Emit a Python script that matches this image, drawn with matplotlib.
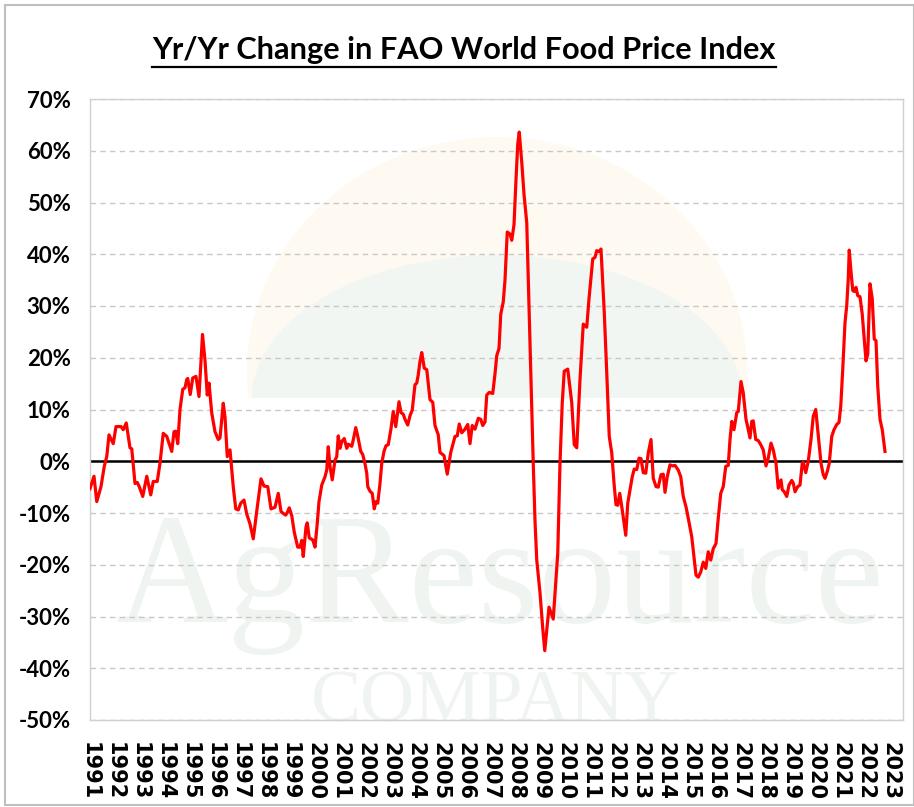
import matplotlib
matplotlib.use("Agg")
import matplotlib.pyplot as plt
from matplotlib import font_manager as fm
from matplotlib.patches import Ellipse, Rectangle
from matplotlib.lines import Line2D

# ---------------- data ----------------
dates = [
    1991.00, 1991.16, 1991.27, 1991.44, 1991.57, 1991.67, 1991.76, 1991.93,
    1992.04, 1992.24, 1992.33, 1992.45, 1992.60, 1992.67, 1992.80, 1992.89, 1992.97,
    1993.11, 1993.27, 1993.43, 1993.53, 1993.69, 1993.80, 1993.93,
    1994.07, 1994.27, 1994.36, 1994.43, 1994.51, 1994.60, 1994.71, 1994.80, 1994.87, 1994.91,
    1995.01, 1995.11, 1995.24, 1995.36, 1995.50, 1995.60, 1995.69, 1995.76, 1995.87,
    1996.00, 1996.13, 1996.20, 1996.33, 1996.40, 1996.49, 1996.60, 1996.73, 1996.83, 1996.93,
    1997.03, 1997.16, 1997.27, 1997.40, 1997.53, 1997.69, 1997.84, 1997.96,
    1998.11, 1998.24, 1998.40, 1998.53, 1998.64, 1998.76, 1998.83, 1998.89, 1998.97,
    1999.07, 1999.17, 1999.31, 1999.40, 1999.47, 1999.53, 1999.64, 1999.69, 1999.77, 1999.91,
    2000.00, 2000.09, 2000.16, 2000.27, 2000.40, 2000.47, 2000.53, 2000.60, 2000.69, 2000.80, 2000.87, 2000.93,
    2001.00, 2001.07, 2001.17, 2001.27, 2001.33, 2001.47, 2001.53, 2001.63, 2001.73, 2001.83, 2001.91,
    2002.00, 2002.07, 2002.11, 2002.20, 2002.29, 2002.37, 2002.44, 2002.51, 2002.60, 2002.67, 2002.76, 2002.84, 2002.93,
    2003.04, 2003.13, 2003.23, 2003.36, 2003.44, 2003.53, 2003.60, 2003.71, 2003.80, 2003.89,
    2004.00, 2004.07, 2004.13, 2004.20, 2004.27, 2004.37, 2004.47, 2004.60, 2004.71, 2004.80, 2004.93,
    2005.00, 2005.16, 2005.29, 2005.43, 2005.60, 2005.69, 2005.77, 2005.87,
    2006.00, 2006.11, 2006.20, 2006.29, 2006.40, 2006.53, 2006.63, 2006.71, 2006.80, 2006.87, 2006.97,
    2007.11, 2007.20, 2007.27, 2007.36, 2007.43, 2007.53, 2007.60, 2007.69, 2007.80, 2007.87, 2007.96,
    2008.04, 2008.11, 2008.17, 2008.27, 2008.36, 2008.47, 2008.57, 2008.67, 2008.73, 2008.80, 2008.87,
    2009.00, 2009.11, 2009.19, 2009.36, 2009.53, 2009.71, 2009.80, 2009.89, 2009.97,
    2010.11, 2010.27, 2010.37, 2010.47, 2010.60, 2010.73, 2010.87, 2010.96,
    2011.11, 2011.20, 2011.27, 2011.36, 2011.44, 2011.57, 2011.67, 2011.77, 2011.87, 2011.96,
    2012.04, 2012.11, 2012.19, 2012.29, 2012.43, 2012.51, 2012.60, 2012.69, 2012.77, 2012.87, 2012.96,
    2013.04, 2013.13, 2013.23, 2013.33, 2013.44, 2013.53, 2013.64, 2013.73, 2013.84, 2013.93,
    2014.00, 2014.09, 2014.20, 2014.31, 2014.40, 2014.53, 2014.63, 2014.73, 2014.84, 2014.93,
    2015.07, 2015.16, 2015.24, 2015.33, 2015.43, 2015.53, 2015.63, 2015.73, 2015.83, 2015.93,
    2016.04, 2016.13, 2016.23, 2016.33, 2016.43, 2016.53, 2016.60, 2016.67, 2016.76, 2016.87, 2016.93,
    2017.04, 2017.13, 2017.24, 2017.31, 2017.40, 2017.47, 2017.53, 2017.63, 2017.73, 2017.83, 2017.93,
    2018.04, 2018.13, 2018.24, 2018.33, 2018.44, 2018.53, 2018.64, 2018.69, 2018.77, 2018.87, 2018.96,
    2019.07, 2019.13, 2019.20, 2019.31, 2019.40, 2019.49, 2019.53, 2019.63, 2019.73, 2019.84, 2019.93,
    2020.03, 2020.13, 2020.24, 2020.33, 2020.40, 2020.49, 2020.57, 2020.67, 2020.76, 2020.87, 2020.96,
    2021.03, 2021.11, 2021.20, 2021.27, 2021.33, 2021.37, 2021.43, 2021.51, 2021.57, 2021.64, 2021.71, 2021.80, 2021.89, 2021.97,
    2022.04, 2022.11, 2022.20, 2022.29, 2022.37, 2022.44, 2022.51, 2022.60, 2022.69, 2022.80,
]
yoy_pct = [
    -5.3, -2.9, -7.8, -4.9, -1.0, 0.9, 5.1, 3.4,
    6.7, 6.7, 6.1, 7.4, 2.6, 2.4, -4.3, -4.1, -4.9,
    -6.8, -2.9, -6.5, -3.9, -3.9, -0.4, 5.4,
    4.8, 1.9, 5.7, 5.8, 3.4, 10.0, 13.9, 14.2, 15.8, 16.0,
    12.9, 16.1, 16.4, 12.5, 24.5, 19.5, 12.8, 15.1, 9.3,
    5.7, 4.2, 4.5, 11.2, 8.6, 0.9, 2.2, -4.9, -9.2, -9.4,
    -8.1, -7.5, -10.2, -12.1, -15.0, -8.9, -3.4, -4.8,
    -4.9, -9.2, -8.9, -6.2, -9.7, -10.2, -10.4, -9.9, -9.0,
    -10.5, -13.7, -16.6, -16.6, -15.3, -18.4, -12.7, -11.9, -14.8, -15.2,
    -16.6, -12.0, -7.8, -4.6, -3.0, -1.7, 2.8, -1.0, -3.6, 0.2, 0.9, 4.9,
    2.5, 3.8, 4.4, 2.5, 3.3, 2.9, 4.1, 6.5, 4.4, 1.9, 1.3,
    -0.5, -2.3, -4.9, -5.8, -6.2, -9.2, -7.8, -8.1, -4.3, -0.4, 1.9, 3.0, 3.2,
    6.3, 9.6, 6.7, 11.5, 9.4, 9.1, 8.1, 7.0, 8.8, 9.9,
    14.8, 15.1, 16.7, 19.3, 21.0, 18.0, 17.7, 11.9, 11.4, 6.9, 5.1,
    1.7, 1.1, -2.5, 1.7, 4.8, 4.9, 7.2, 5.5,
    6.2, 7.1, 3.4, 6.9, 6.2, 8.3, 8.1, 6.9, 7.6, 12.8, 13.3,
    13.1, 16.9, 20.4, 21.8, 28.4, 30.8, 35.0, 44.3, 43.9, 42.7, 45.7,
    54.4, 61.3, 63.6, 57.8, 51.6, 46.1, 28.0, 10.7, -0.4, -11.5, -19.1,
    -25.4, -32.3, -36.6, -28.2, -30.5, -17.8, -0.4, 11.3, 17.4,
    17.8, 11.3, 3.2, 2.6, 15.8, 26.5, 25.9, 31.4,
    39.1, 39.4, 40.7, 40.5, 41.0, 28.8, 17.1, 4.8, 1.6, -4.2,
    -8.4, -8.5, -6.2, -9.4, -14.3, -8.1, -5.5, -3.0, -1.5, -1.6, 0.6,
    0.5, -2.2, -2.3, 1.6, 4.2, -3.3, -4.9, -5.0, -2.6, -2.5,
    -6.0, -3.0, -0.7, -0.9, -0.8, -1.7, -3.0, -6.8, -8.8, -11.0,
    -14.6, -18.5, -22.0, -22.4, -21.4, -19.5, -20.7, -17.5, -19.1, -16.9,
    -15.9, -11.0, -6.2, -4.9, -1.0, -0.8, 4.2, 7.7, 6.1, 9.4, 9.6,
    15.4, 13.2, 8.1, 6.6, 4.5, 7.7, 7.8, 4.2, 4.0, 3.2, 2.2,
    -0.9, 0.6, 3.5, 2.2, -0.4, -5.2, -3.6, -5.5, -5.9, -6.8, -4.6,
    -3.7, -4.2, -5.9, -4.9, -4.6, -0.4, -0.2, -2.2, 0.0, 4.2, 8.7,
    10.0, 5.1, -0.4, -2.6, -3.3, -2.0, -0.4, 4.8, 6.1, 7.1, 7.5,
    10.6, 17.8, 26.8, 30.1, 35.2, 40.8, 37.2, 33.0, 32.8, 33.6, 32.0, 31.8, 28.4, 23.6,
    19.4, 20.7, 34.3, 31.4, 23.6, 23.3, 14.5, 8.1, 6.1, 1.9,
]
year_ticks = list(range(1991, 2024))
y_ticks = list(range(-50, 71, 10))
title_text = "Yr/Yr Change in FAO World Food Price Index"

# ---------------- fonts ----------------
avail = {f.name for f in fm.fontManager.ttflist}
calib = "Lato" if "Lato" in avail else "DejaVu Sans"
serif = "Liberation Serif" if "Liberation Serif" in avail else "DejaVu Serif"

W, H = 914, 807
fig = plt.figure(figsize=(W / 100, H / 100), dpi=100)
fig.patch.set_facecolor("white")


def fx(x):
    return x / W


def fy(y):
    return 1 - y / H


tf = fig.transFigure

# outer frame
fig.add_artist(Rectangle((fx(5), fy(805)), fx(914) - fx(5), fy(5) - fy(805),
                         transform=tf, fill=False,
                         edgecolor="#bfbfbf", linewidth=1.5))

L, R, T, B = 90, 903, 99, 720
ax = fig.add_axes([fx(L), fy(B), fx(R) - fx(L), fy(T) - fy(B)])
ax.set_facecolor("white")

# watermark logo (decorative, very faint)
ax.add_patch(Ellipse((fx(497), fy(372)), fx(250) * 2, (fy(137) - fy(372)) * 2,
                     transform=tf, facecolor="#fefaf1", edgecolor="none", zorder=0.1))
ax.add_patch(Ellipse((fx(497), fy(398)), fx(245) * 2, (fy(255) - fy(398)) * 2,
                     transform=tf, facecolor="#f2f6f2", edgecolor="none", zorder=0.15))
ax.add_patch(Rectangle((fx(240), fy(640)), fx(520), fy(398) - fy(640), transform=tf,
                       facecolor="white", edgecolor="none", zorder=0.16))
ax.text(fx(500), fy(622), "AgResource", transform=tf, ha="center", va="baseline",
        fontsize=112, family=serif, color="#eff4f1", zorder=0.2)
ax.text(fx(495), fy(722), "COMPANY", transform=tf, ha="center", va="baseline",
        fontsize=54, family=serif, color="#eff4f1", zorder=0.2)

# grid & zero line
ax.set_axisbelow(True)
ax.grid(axis="y", color="#c8c8c8", linestyle=(0, (4, 3)), linewidth=1.0, zorder=0.5)
ax.axhline(0, color="black", linewidth=1.8, zorder=2)

ax.plot(dates, yoy_pct, color="#ff0000", linewidth=2.3, zorder=3,
        solid_joinstyle="round")

ax.set_xlim(1991, 2023.52)
ax.set_ylim(-50, 70)
ax.set_yticks(y_ticks)
ax.set_yticklabels([f"{v}%" for v in y_ticks], fontsize=16, fontweight="bold",
                   family=calib)
ax.set_xticks(year_ticks)
ax.set_xticklabels([str(y) for y in year_ticks], rotation=-90, fontsize=15,
                   fontweight="bold", family="DejaVu Sans", va="top", ha="center")
ax.tick_params(axis="both", length=0)
ax.tick_params(axis="y", pad=14)
ax.tick_params(axis="x", pad=16)
for s in ax.spines.values():
    s.set_color("#d0d0d0")
    s.set_linewidth(1.0)

# title, scaled to the reference width (~625 px), underlined
title = fig.text(fx(464), fy(59), title_text, ha="center", va="baseline",
                 fontsize=26, fontweight="bold", family=calib)
fig.canvas.draw()
bb = title.get_window_extent()
title.set_fontsize(26 * 625.0 / bb.width)
fig.canvas.draw()
bb = title.get_window_extent()
fig.add_artist(Line2D([bb.x0 / W, bb.x1 / W], [fy(67), fy(67)], transform=tf,
                      color="black", linewidth=1.6))

fig.savefig("out.png", dpi=100, facecolor="white")
